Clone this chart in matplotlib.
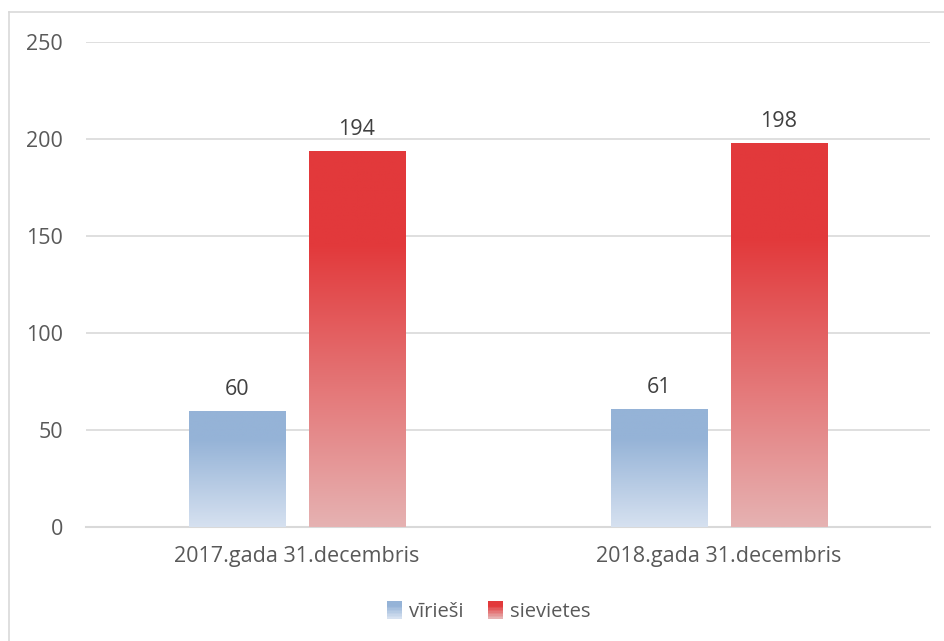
import numpy as np
import matplotlib
matplotlib.use("Agg")
import matplotlib.pyplot as plt
from matplotlib.colors import LinearSegmentedColormap
from matplotlib.patches import Rectangle, Patch
from matplotlib.lines import Line2D
from matplotlib.legend_handler import HandlerBase

# dati
kategorijas = ["2017.gada 31.decembris", "2018.gada 31.decembris"]
virieshi = [60, 61]
sievietes = [194, 198]
serijas = ["vīrieši", "sievietes"]

plt.rcParams['font.family'] = ['Open Sans', 'DejaVu Sans']
teksts = '#595959'

fig = plt.figure(figsize=(9.44, 6.41), dpi=100)
ax = fig.add_axes([0.0911, 0.1778, 0.8941, 0.7567])

# krāsas: apakša -> augša
zils = LinearSegmentedColormap.from_list('zils', [(0, '#D6E1F0'), (0.75, '#95B3D7'), (1, '#95B3D7')])
sarkans = LinearSegmentedColormap.from_list('sark', [(0, '#E6B2B2'), (0.75, '#E2393B'), (1, '#E2393B')])

x = np.arange(len(kategorijas))
w = 0.2275
off = 0.142
grad = np.linspace(0, 1, 256).reshape(-1, 1)

for vert, dx, cmap in [(virieshi, -off, zils), (sievietes, off, sarkans)]:
    bars = ax.bar(x + dx, vert, w, color='none', edgecolor='none', zorder=3)
    for b, v in zip(bars, vert):
        x0 = b.get_x()
        im = ax.imshow(grad, cmap=cmap, origin='lower', aspect='auto',
                       extent=[x0, x0 + w, 0, v], zorder=3)
        im.set_clip_path(b)
        ax.annotate(str(v), (x0 + w / 2, v), xytext=(0, 8), textcoords='offset points',
                    ha='center', va='bottom', fontsize=15.5, color='#404040')

ax.set_xlim(-0.5, 1.5)
ax.set_ylim(0, 250)
ax.set_yticks([0, 50, 100, 150, 200, 250])
ax.set_xticks(x)
ax.set_xticklabels(kategorijas)
ax.tick_params(axis='y', length=0, pad=16.5, labelsize=15.5, labelcolor=teksts)
ax.tick_params(axis='x', length=0, pad=14, labelsize=15.5, labelcolor=teksts)
ax.grid(axis='y', color='#D9D9D9', linewidth=1.2, zorder=0)
for s in ['top', 'right', 'left']:
    ax.spines[s].set_visible(False)
ax.spines['bottom'].set_color('#D9D9D9')
ax.spines['bottom'].set_linewidth(1.5)


class GradHandler(HandlerBase):
    def __init__(self, cmap):
        super().__init__()
        self.cmap = cmap

    def create_artists(self, legend, orig_handle, xdescent, ydescent, width, height, fontsize, trans):
        n = 12
        out = []
        for i in range(n):
            r = Rectangle((-xdescent, -ydescent + height * i / n), width, height / n + 0.3,
                          facecolor=self.cmap(i / (n - 1)), edgecolor='none', transform=trans)
            out.append(r)
        return out


h = [Patch(color='#A9C1E1'), Patch(color='#E44E50')]
fig.legend(h, serijas, loc='center', bbox_to_anchor=(0.518, 0.046), ncol=2, frameon=False,
           fontsize=14.5, labelcolor=teksts, handlelength=0.75, handleheight=0.95,
           handletextpad=0.35, columnspacing=1.2,
           handler_map={h[0]: GradHandler(zils), h[1]: GradHandler(sarkans)})

# ārējais rāmis
fig.add_artist(Line2D([9 / 944, 9 / 944], [0, 1 - 12 / 641], color='#D9D9D9', lw=1.2,
                      transform=fig.transFigure))
fig.add_artist(Line2D([9 / 944, 1], [1 - 12 / 641, 1 - 12 / 641], color='#D9D9D9', lw=1.2,
                      transform=fig.transFigure))

fig.savefig('out.png', dpi=100)
